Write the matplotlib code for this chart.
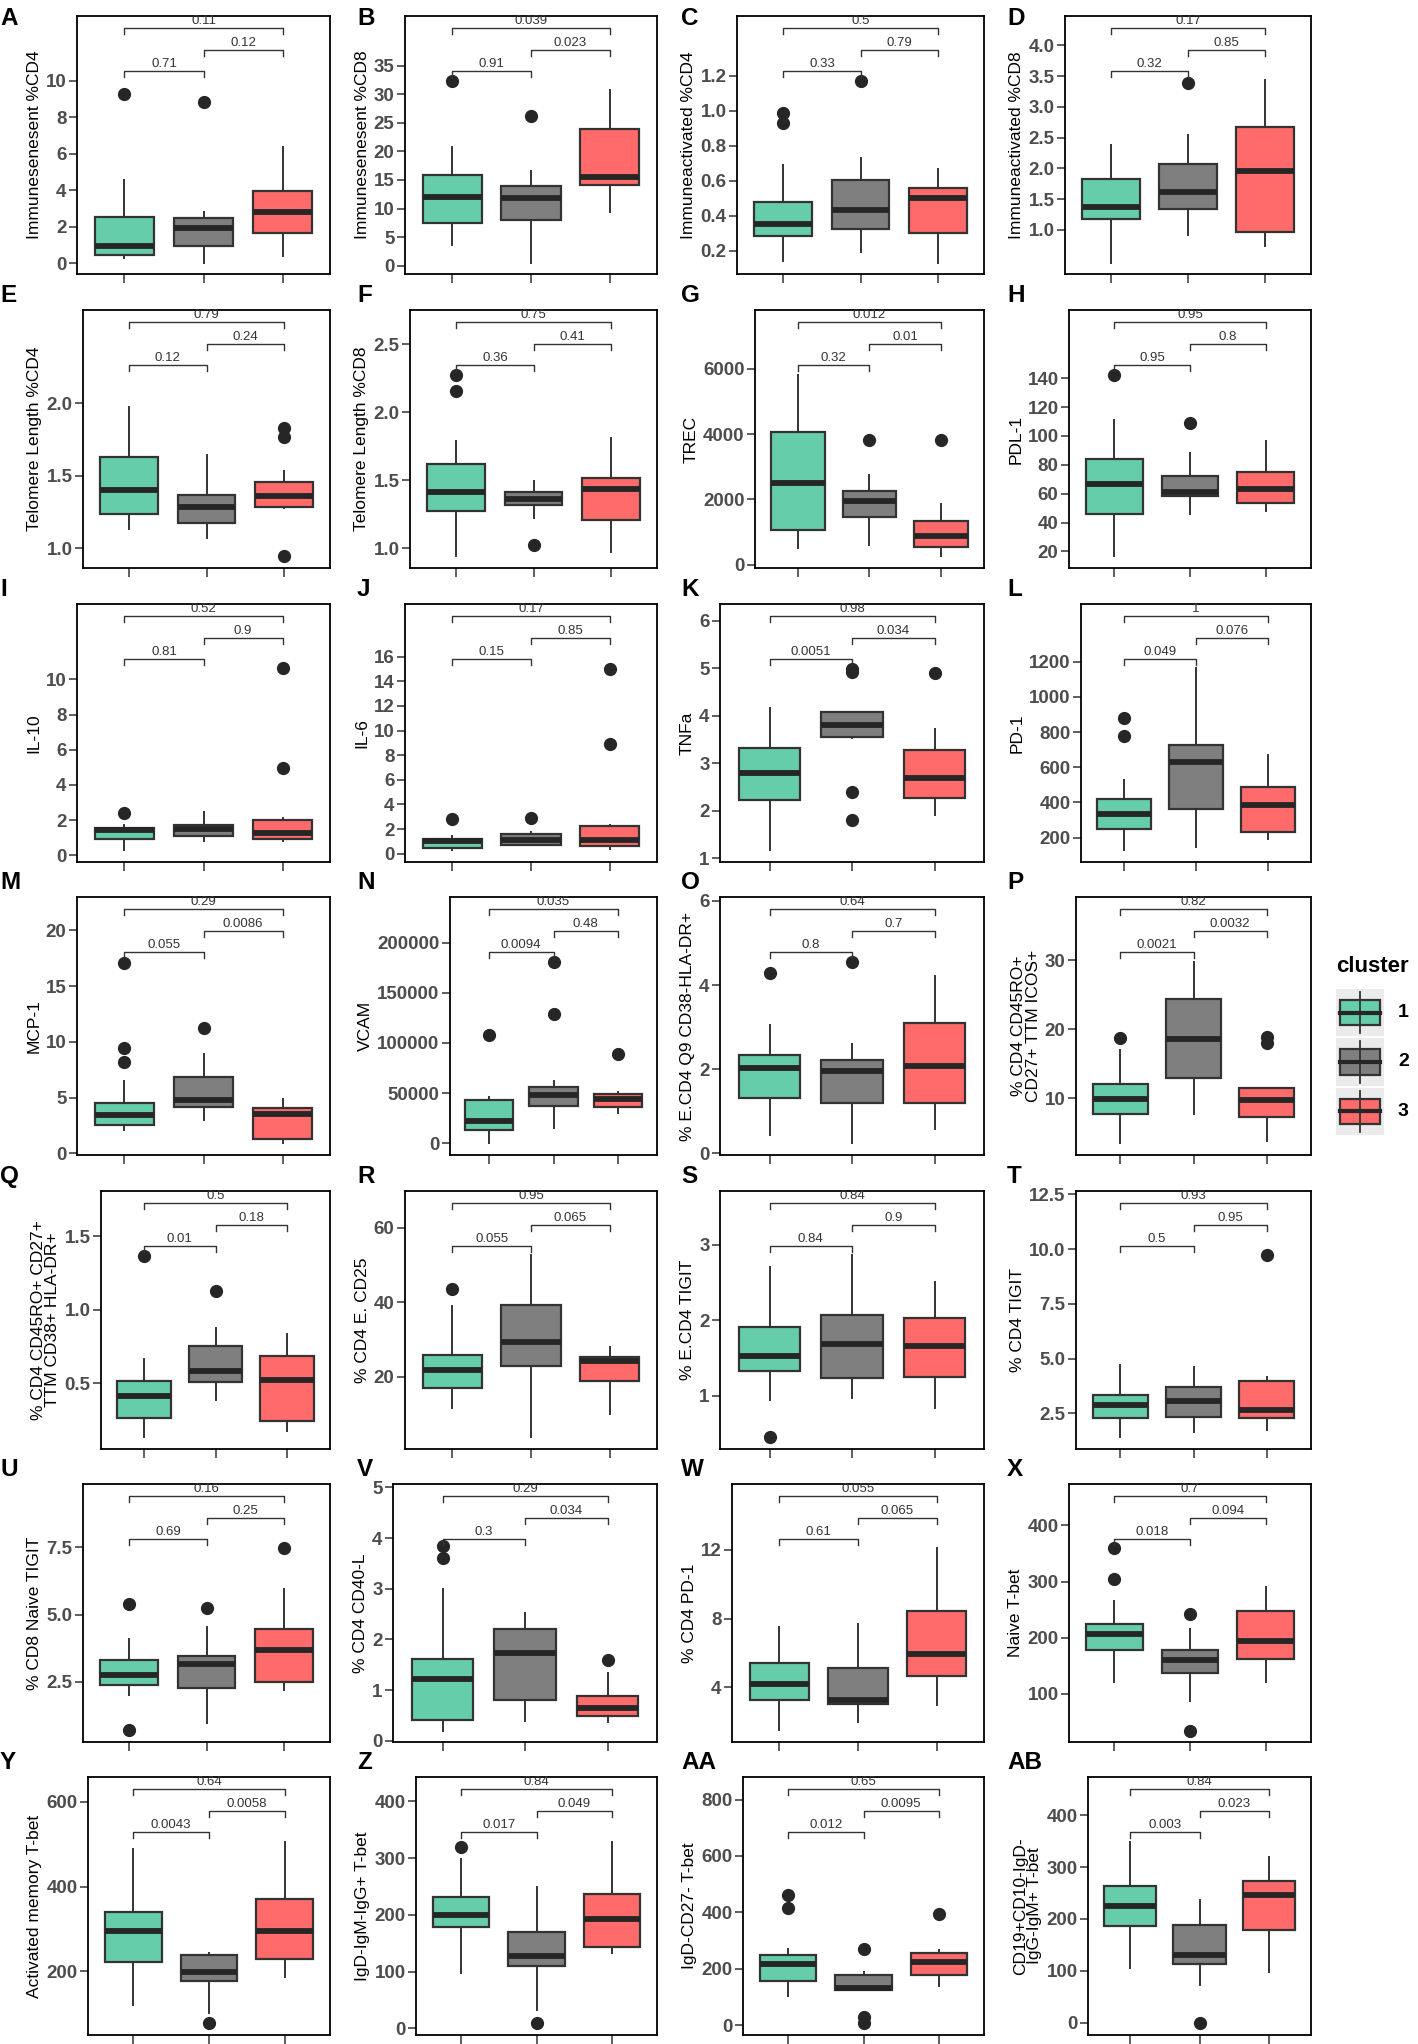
import matplotlib
matplotlib.use("Agg")
import matplotlib.pyplot as plt
from matplotlib.patches import Rectangle
from matplotlib.transforms import blended_transform_factory

plt.rcParams["font.family"] = ["Liberation Sans", "DejaVu Sans"]

# ─────────────────────────────────────────────
# DATA  (box stats per cluster: whisker low, q1, median, q3, whisker high)
# ─────────────────────────────────────────────
clusters = ["1", "2", "3"]

A_box = [(0.31, 0.46, 0.95, 2.55, 4.56), (0.0, 0.97, 1.92, 2.50, 2.83), (0.42, 1.64, 2.83, 3.96, 6.39)]
A_out = [[9.27], [8.85], []]
A_p = ["0.71", "0.12", "0.11"]
A_ticks = [0, 2, 4, 6, 8, 10]

B_box = [(3.7, 7.5, 12.1, 15.9, 20.8), (0.4, 8.0, 11.8, 14.0, 16.6), (9.45, 14.1, 15.6, 24.0, 30.7)]
B_out = [[32.3], [26.2], []]
B_p = ["0.91", "0.023", "0.039"]
B_ticks = [0, 5, 10, 15, 20, 25, 30, 35]

C_box = [(0.14, 0.286, 0.35, 0.48, 0.69), (0.19, 0.324, 0.433, 0.605, 0.729), (0.127, 0.303, 0.50, 0.557, 0.668)]
C_out = [[0.93, 0.986], [1.17], []]
C_p = ["0.33", "0.79", "0.5"]
C_ticks = [0.2, 0.4, 0.6, 0.8, 1.0, 1.2]

D_box = [(0.457, 1.18, 1.37, 1.83, 2.38), (0.92, 1.33, 1.61, 2.07, 2.54), (0.74, 0.957, 1.96, 2.68, 3.43)]
D_out = [[], [3.39], []]
D_p = ["0.32", "0.85", "0.17"]
D_ticks = [1.0, 1.5, 2.0, 2.5, 3.0, 3.5, 4.0]

E_box = [(1.131, 1.237, 1.402, 1.628, 1.977), (1.069, 1.172, 1.28, 1.368, 1.644), (1.276, 1.283, 1.356, 1.453, 1.533)]
E_out = [[], [], [0.943, 1.77, 1.828]]
E_p = ["0.12", "0.24", "0.79"]
E_ticks = [1.0, 1.5, 2.0]

F_box = [(0.944, 1.27, 1.409, 1.618, 1.79), (1.218, 1.319, 1.363, 1.41, 1.49), (0.968, 1.208, 1.436, 1.515, 1.809)]
F_out = [[2.157, 2.275], [1.025], []]
F_p = ["0.36", "0.41", "0.75"]
F_ticks = [1.0, 1.5, 2.0, 2.5]

G_box = [(510, 1071, 2499, 4080, 5814), (612, 1448, 1958, 2264, 2754), (275, 541, 887, 1326, 1856)]
G_out = [[], [3825], [3825]]
G_p = ["0.32", "0.01", "0.012"]
G_ticks = [0, 2000, 4000, 6000]

H_box = [(17, 45.8, 66.6, 84.2, 111.2), (46, 58.1, 61.5, 72.6, 88), (48.2, 53.5, 63.2, 74.7, 96.2)]
H_out = [[142.3], [109.3], []]
H_p = ["0.95", "0.8", "0.95"]
H_ticks = [20, 40, 60, 80, 100, 120, 140]

I_box = [(0.32, 0.95, 1.42, 1.56, 1.75), (0.82, 1.08, 1.52, 1.75, 2.47), (0.82, 0.95, 1.28, 2.03, 2.1)]
I_out = [[2.41], [], [4.99, 10.63]]
I_p = ["0.81", "0.9", "0.52"]
I_ticks = [0, 2, 4, 6, 8, 10]

J_box = [(0.33, 0.46, 1.0, 1.17, 1.44), (0.68, 0.68, 1.08, 1.63, 1.76), (0.4, 0.6, 1.08, 2.22, 2.3)]
J_out = [[2.79], [2.9], [8.89, 15.04]]
J_p = ["0.15", "0.85", "0.17"]
J_ticks = [0, 2, 4, 6, 8, 10, 12, 14, 16]

K_box = [(1.16, 2.22, 2.80, 3.31, 4.15), (3.52, 3.55, 3.81, 4.07, 4.07), (1.9, 2.27, 2.69, 3.27, 3.71)]
K_out = [[], [1.81, 2.39, 4.91, 4.99], [4.9]]
K_p = ["0.0051", "0.034", "0.98"]
K_ticks = [1, 2, 3, 4, 5, 6]

L_box = [(128, 251, 335, 422, 530), (147, 361, 627, 729, 1162), (194, 232, 384, 490, 669)]
L_out = [[779, 877], [], []]
L_p = ["0.049", "0.076", "1"]
L_ticks = [200, 400, 600, 800, 1000, 1200]

M_box = [(2.09, 2.54, 3.43, 4.48, 6.48), (2.99, 4.12, 4.78, 6.81, 8.9), (0.9, 1.25, 3.49, 4.03, 4.87)]
M_out = [[8.15, 9.49, 17.1], [11.25], []]
M_p = ["0.055", "0.0086", "0.29"]
M_ticks = [0, 5, 10, 15, 20]

N_box = [(0, 13270, 22200, 43100, 45800), (14900, 37150, 48100, 56400, 62400), (29850, 36500, 44100, 48760, 51400)]
N_out = [[107800], [128700, 180800], [88900]]
N_p = ["0.0094", "0.48", "0.035"]
N_ticks = [0, 50000, 100000, 150000, 200000]

O_box = [(0.435, 1.306, 2.04, 2.336, 3.05), (0.24, 1.20, 1.956, 2.23, 2.6), (0.59, 1.19, 2.07, 3.10, 4.21)]
O_out = [[4.28], [4.55], []]
O_p = ["0.8", "0.7", "0.64"]
O_ticks = [0, 2, 4, 6]

P_box = [(3.49, 7.73, 9.9, 12.07, 16.99), (7.69, 12.99, 18.67, 24.46, 29.76), (3.83, 7.25, 9.76, 11.45, 11.45)]
P_out = [[18.77], [], [18.05, 18.9]]
P_p = ["0.0021", "0.0032", "0.82"]
P_ticks = [10, 20, 30]

Q_box = [(0.138, 0.262, 0.414, 0.518, 0.663), (0.387, 0.511, 0.584, 0.753, 0.88), (0.176, 0.247, 0.523, 0.688, 0.833)]
Q_out = [[1.364], [1.127], []]
Q_p = ["0.01", "0.18", "0.5"]
Q_ticks = [0.5, 1.0, 1.5]

R_box = [(11.5, 17.05, 21.8, 25.8, 38.9), (3.9, 22.9, 29.2, 39.2, 52.6), (9.9, 18.9, 24.2, 25.4, 27.9)]
R_out = [[43.5], [], []]
R_p = ["0.055", "0.065", "0.95"]
R_ticks = [20, 40, 60]

S_box = [(0.943, 1.33, 1.53, 1.912, 2.705), (0.974, 1.238, 1.683, 2.066, 2.86), (0.833, 1.25, 1.656, 2.03, 2.507)]
S_out = [[0.449], [], []]
S_p = ["0.84", "0.9", "0.84"]
S_ticks = [1, 2, 3]

T_box = [(1.41, 2.27, 2.88, 3.34, 4.7), (1.63, 2.32, 3.08, 3.69, 4.63), (1.74, 2.27, 2.65, 3.99, 4.17)]
T_out = [[], [], [9.72]]
T_p = ["0.5", "0.95", "0.93"]
T_ticks = [2.5, 5.0, 7.5, 10.0, 12.5]

U_box = [(2.0, 2.38, 2.75, 3.33, 4.11), (0.98, 2.28, 3.18, 3.48, 4.54), (2.19, 2.5, 3.68, 4.48, 5.97)]
U_out = [[0.705, 5.4], [5.25], [7.48]]
U_p = ["0.69", "0.25", "0.16"]
U_ticks = [2.5, 5.0, 7.5]

V_box = [(0.20, 0.40, 1.22, 1.62, 3.0), (0.39, 0.81, 1.74, 2.21, 2.52), (0.37, 0.48, 0.64, 0.89, 1.34)]
V_out = [[3.6, 3.84], [], [1.59]]
V_p = ["0.3", "0.034", "0.29"]
V_ticks = [0, 1, 2, 3, 4, 5]

W_box = [(1.5, 3.28, 4.21, 5.41, 7.51), (1.98, 3.05, 3.28, 5.12, 7.7), (2.99, 4.64, 5.96, 8.42, 12.1)]
W_out = [[], [], []]
W_p = ["0.61", "0.065", "0.055"]
W_ticks = [4, 8, 12]

X_box = [(121, 179, 207, 225, 266), (88, 137, 161, 179, 216), (121, 163, 194, 247, 291)]
X_out = [[304, 360], [35, 242], []]
X_p = ["0.018", "0.094", "0.7"]
X_ticks = [100, 200, 300, 400]

Y_box = [(120, 222, 296, 339, 488), (102, 178, 198, 238, 243), (187, 230, 296, 370, 506)]
Y_out = [[], [77], []]
Y_p = ["0.0043", "0.0058", "0.64"]
Y_ticks = [200, 400, 600]

Z_box = [(98, 178, 200, 232, 298), (33, 109, 128, 169, 249), (133, 143, 192, 236, 329)]
Z_out = [[319], [9], []]
Z_p = ["0.017", "0.049", "0.84"]
Z_ticks = [0, 100, 200, 300, 400]

AA_box = [(102, 155, 217, 250, 271), (126, 126, 132, 177, 188), (138, 179, 223, 256, 267)]
AA_out = [[417, 462], [6, 29, 271], [395]]
AA_p = ["0.012", "0.0095", "0.65"]
AA_ticks = [0, 200, 400, 600, 800]

AB_box = [(106, 186, 225, 264, 349), (72, 114, 130, 189, 237), (98, 178, 246, 274, 319)]
AB_out = [[], [0], []]
AB_p = ["0.003", "0.023", "0.84"]
AB_ticks = [0, 100, 200, 300, 400]

panels = [
    ("A", "Immunesenesent %CD4", A_box, A_out, A_p, A_ticks),
    ("B", "Immunesenesent %CD8", B_box, B_out, B_p, B_ticks),
    ("C", "Immuneactivated %CD4", C_box, C_out, C_p, C_ticks),
    ("D", "Immuneactivated %CD8", D_box, D_out, D_p, D_ticks),
    ("E", "Telomere Length %CD4", E_box, E_out, E_p, E_ticks),
    ("F", "Telomere Length %CD8", F_box, F_out, F_p, F_ticks),
    ("G", "TREC", G_box, G_out, G_p, G_ticks),
    ("H", "PDL-1", H_box, H_out, H_p, H_ticks),
    ("I", "IL-10", I_box, I_out, I_p, I_ticks),
    ("J", "IL-6", J_box, J_out, J_p, J_ticks),
    ("K", "TNFa", K_box, K_out, K_p, K_ticks),
    ("L", "PD-1", L_box, L_out, L_p, L_ticks),
    ("M", "MCP-1", M_box, M_out, M_p, M_ticks),
    ("N", "VCAM", N_box, N_out, N_p, N_ticks),
    ("O", "% E.CD4 Q9 CD38-HLA-DR+", O_box, O_out, O_p, O_ticks),
    ("P", "% CD4 CD45RO+\nCD27+ TTM ICOS+", P_box, P_out, P_p, P_ticks),
    ("Q", "% CD4 CD45RO+ CD27+\nTTM CD38+ HLA-DR+", Q_box, Q_out, Q_p, Q_ticks),
    ("R", "% CD4 E. CD25", R_box, R_out, R_p, R_ticks),
    ("S", "% E.CD4 TIGIT", S_box, S_out, S_p, S_ticks),
    ("T", "% CD4 TIGIT", T_box, T_out, T_p, T_ticks),
    ("U", "% CD8 Naive TIGIT", U_box, U_out, U_p, U_ticks),
    ("V", "% CD4 CD40-L", V_box, V_out, V_p, V_ticks),
    ("W", "% CD4 PD-1", W_box, W_out, W_p, W_ticks),
    ("X", "Naive T-bet", X_box, X_out, X_p, X_ticks),
    ("Y", "Activated memory T-bet", Y_box, Y_out, Y_p, Y_ticks),
    ("Z", "IgD-IgM-IgG+ T-bet", Z_box, Z_out, Z_p, Z_ticks),
    ("AA", "IgD-CD27- T-bet", AA_box, AA_out, AA_p, AA_ticks),
    ("AB", "CD19+CD10-IgD-\nIgG-IgM+ T-bet", AB_box, AB_out, AB_p, AB_ticks),
]

# y range of each panel (axis limits)
YLIM = {
    "A": (-0.58, 13.54), "B": (-1.46, 43.7), "C": (0.066, 1.543), "D": (0.28, 4.48),
    "E": (0.862, 2.644), "F": (0.853, 2.752), "G": (-102, 7806), "H": (8.5, 187.3),
    "I": (-0.38, 14.29), "J": (-0.68, 20.28), "K": (0.916, 6.35), "L": (61, 1528),
    "M": (-0.15, 22.99), "N": (-11600, 245400), "O": (-0.04, 6.095), "P": (1.81, 39.16),
    "Q": (0.054, 1.808), "R": (0.6, 69.8), "S": (0.295, 3.709), "T": (0.874, 12.65),
    "U": (0.272, 9.85), "V": (-0.026, 5.066), "W": (0.82, 15.82), "X": (14.6, 473.5),
    "Y": (49.4, 658.8), "Z": (-11.7, 442.7), "AA": (-35, 880), "AB": (-23.7, 473.6),
}

# ─────────────────────────────────────────────
# LAYOUT (pixels)
# ─────────────────────────────────────────────
W, H = 1418, 2044
ROW_TOP = [16, 310, 604, 897, 1191, 1484, 1777]
PANEL_H = 258
COL_RIGHT = [330, 657, 984, 1311]
COL_LETTER_X = [0, 357, 681, 1007]
FRAME_LEFT = [77, 405, 737, 1065,
              83, 410, 755, 1069,
              77, 405, 720, 1081,
              77, 450, 720, 1076,
              101, 405, 720, 1076,
              83, 393, 732, 1069,
              88, 416, 743, 1088]

FILL = ["#66CDAA", "#7F7F7F", "#FF6A6A"]
EDGE = "#333333"
TICK_C = "#4D4D4D"
BRACKET_Y = [0.787, 0.868, 0.953]
PAIRS = [(1, 2), (2, 3), (1, 3)]

fig = plt.figure(figsize=(W / 100, H / 100), dpi=100)
fig.patch.set_facecolor("white")


def px_axes(left, top, width, height):
    return fig.add_axes([left / W, 1 - (top + height) / H, width / W, height / H])


def fmt_ticks(ticks):
    if all(float(t).is_integer() for t in ticks):
        return [f"{int(t)}" for t in ticks]
    return [f"{t:.1f}" for t in ticks]


for i, (letter, ylab, boxes, outs, pvals, ticks) in enumerate(panels):
    row, col = divmod(i, 4)
    left = FRAME_LEFT[i]
    top = ROW_TOP[row]
    ax = px_axes(left, top, COL_RIGHT[col] - left, PANEL_H)

    stats = []
    for (lo, q1, med, q3, hi), fl in zip(boxes, outs):
        stats.append(dict(whislo=lo, q1=q1, med=med, q3=q3, whishi=hi, fliers=fl))
    bp = ax.bxp(stats, positions=[1, 2, 3], widths=0.75, patch_artist=True,
                showcaps=False,
                boxprops=dict(edgecolor=EDGE, linewidth=1.6),
                whiskerprops=dict(color=EDGE, linewidth=1.4),
                medianprops=dict(color="#262626", linewidth=4.2, solid_capstyle="butt"),
                flierprops=dict(marker="o", markerfacecolor="#262626",
                                markeredgecolor="#262626", markersize=8.5))
    for patch, c in zip(bp["boxes"], FILL):
        patch.set_facecolor(c)

    ax.set_xlim(0.4, 3.6)
    ax.set_ylim(*YLIM[letter])
    ax.set_xticks([1, 2, 3])
    ax.set_xticklabels([])
    ax.set_yticks(ticks)
    ax.set_yticklabels(fmt_ticks(ticks), fontweight="bold", fontsize=13.5, color=TICK_C)
    ax.tick_params(axis="x", length=6.5, width=1.1, color=EDGE)
    ax.tick_params(axis="y", length=5.5, width=1.1, color=EDGE, pad=2)
    ax.set_ylabel(ylab, fontsize=12.5, color="black", labelpad=3, linespacing=0.95)
    for sp in ax.spines.values():
        sp.set_color("black")
        sp.set_linewidth(1.3)

    # significance brackets
    trans = blended_transform_factory(ax.transData, ax.transAxes)
    for (x1, x2), yb, pv in zip(PAIRS, BRACKET_Y, pvals):
        ax.plot([x1, x1, x2, x2], [yb - 0.022, yb, yb, yb - 0.022], transform=trans,
                color="#333333", lw=1.0, clip_on=False)
        ax.text((x1 + x2) / 2, yb + 0.004, pv, transform=trans, ha="center",
                va="bottom", fontsize=9.5, color="#333333")

    # panel letter
    base = 25 if row == 0 else top - 8
    fig.text(COL_LETTER_X[col] / W, 1 - base / H, letter, fontsize=17.5,
             fontweight="bold", va="baseline", ha="left")

# ─────────────────────────────────────────────
# LEGEND
# ─────────────────────────────────────────────
fig.text(1336 / W, 1 - 967 / H, "cluster", fontsize=16, fontweight="bold",
         va="center", ha="left")
lax = px_axes(1336, 988, 48, 148)
lax.set_xlim(0, 1)
lax.set_ylim(0, 3)
lax.axis("off")
for k, (lab, c) in enumerate(zip(clusters, FILL)):
    y0 = 2 - k
    lax.add_patch(Rectangle((0, y0 + 0.02), 1, 0.96, facecolor="#EBEBEB", edgecolor="none"))
    lax.plot([0.5, 0.5], [y0 + 0.08, y0 + 0.92], color=EDGE, lw=1.3)
    lax.add_patch(Rectangle((0.08, y0 + 0.24), 0.84, 0.52, facecolor=c,
                            edgecolor=EDGE, lw=1.6))
    lax.plot([0.08, 0.92], [y0 + 0.5, y0 + 0.5], color="#262626", lw=3)
    fig.text(1398 / W, 1 - (988 + 148 * (k + 0.5) / 3) / H, lab, fontsize=14,
             fontweight="bold", va="center", ha="left")

fig.savefig("out.png", dpi=100, facecolor="white")
